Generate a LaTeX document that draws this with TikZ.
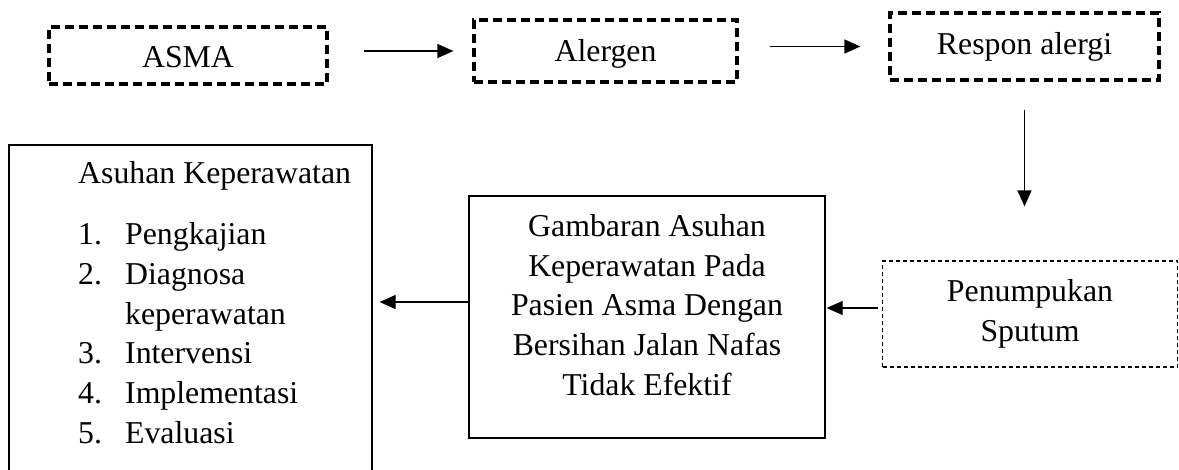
\documentclass[tikz,border=0pt]{standalone}
\usepackage{fontspec}
\setmainfont{Liberation Serif}
\usepackage{tikz}
\usetikzlibrary{arrows.meta}

\begin{document}
\begin{tikzpicture}[x=1pt,y=-1pt,
every node/.style={font=\fontsize{31.8}{39.6}\selectfont},
every text node part/.style={align=center},
thickdash/.style={draw, line width=3.2pt, dash pattern=on 9pt off 5pt, inner sep=0pt},
thindash/.style={draw, line width=1.1pt, dash pattern=on 4pt off 3pt, inner sep=0pt},
plainbox/.style={draw, line width=1.3pt, inner sep=0pt},
listitem/.style={anchor=base west, inner sep=0pt, align=left},
flow/.style={line width=1.2pt, -{Triangle[length=16pt,width=14pt]}}]
\useasboundingbox (0,0) rectangle (1179,470);
\clip (0,0) rectangle (1179,470);

% top row
\node [thickdash, minimum width=278pt, minimum height=57pt, text height=25pt, text depth=0pt] (asma) at (188,55.5) {ASMA};
\node [thickdash, minimum width=263pt, minimum height=62pt, text height=29pt, text depth=7pt] (alergen) at (605.5,51) {Alergen};
\node [thickdash, minimum width=269pt, minimum height=67pt] (respon) at (1024.5,46.5) {Respon alergi};

% second row
\node [thindash, minimum width=295pt, minimum height=106pt] (sputum) at (1030,314) {Penumpukan\\Sputum};
\node [plainbox, minimum width=356pt, minimum height=242pt] (gambaran) at (647,317) {};
\node [inner sep=0pt] (gambaranText) at (647,305) {Gambaran Asuhan\\Keperawatan Pada\\Pasien Asma Dengan\\Bersihan Jalan Nafas\\Tidak Efektif};
\node [plainbox, minimum width=363pt, minimum height=345pt] (asuhan) at (190.5,317.5) {};
\node [listitem] (asuhanTitle) at (78,184) {Asuhan Keperawatan};
\node [listitem] (item1) at (78,245) {\makebox[47pt][l]{1.}Pengkajian};
\node [listitem] (item2) at (78,284.6) {\makebox[47pt][l]{2.}Diagnosa};
\node [listitem] (item2b) at (78,324.2) {\makebox[47pt][l]{}keperawatan};
\node [listitem] (item3) at (78,363.8) {\makebox[47pt][l]{3.}Intervensi};
\node [listitem] (item4) at (78,403.4) {\makebox[47pt][l]{4.}Implementasi};
\node [listitem] (item5) at (78,443) {\makebox[47pt][l]{5.}Evaluasi};

% connectors
\coordinate (sp) at ([yshift=6pt]sputum.west);
\coordinate (ga) at ([yshift=15pt]gambaran.west);
\draw [flow, shorten <=35pt, shorten >=19pt] (asma.east |- alergen.west) -- (alergen.west);
\draw [flow, shorten <=31pt, shorten >=28pt] (alergen.east |- respon.west) -- (respon.west);
\draw [flow, shorten <=28pt, shorten >=54pt] (respon.south) -- (respon.south |- sputum.north);
\draw [flow, shorten <=4pt, shorten >=1pt] (sp) -- (sp -| gambaran.east);
\draw [flow, shorten >=7pt] (ga) -- (ga -| asuhan.east);
\end{tikzpicture}
\end{document}
